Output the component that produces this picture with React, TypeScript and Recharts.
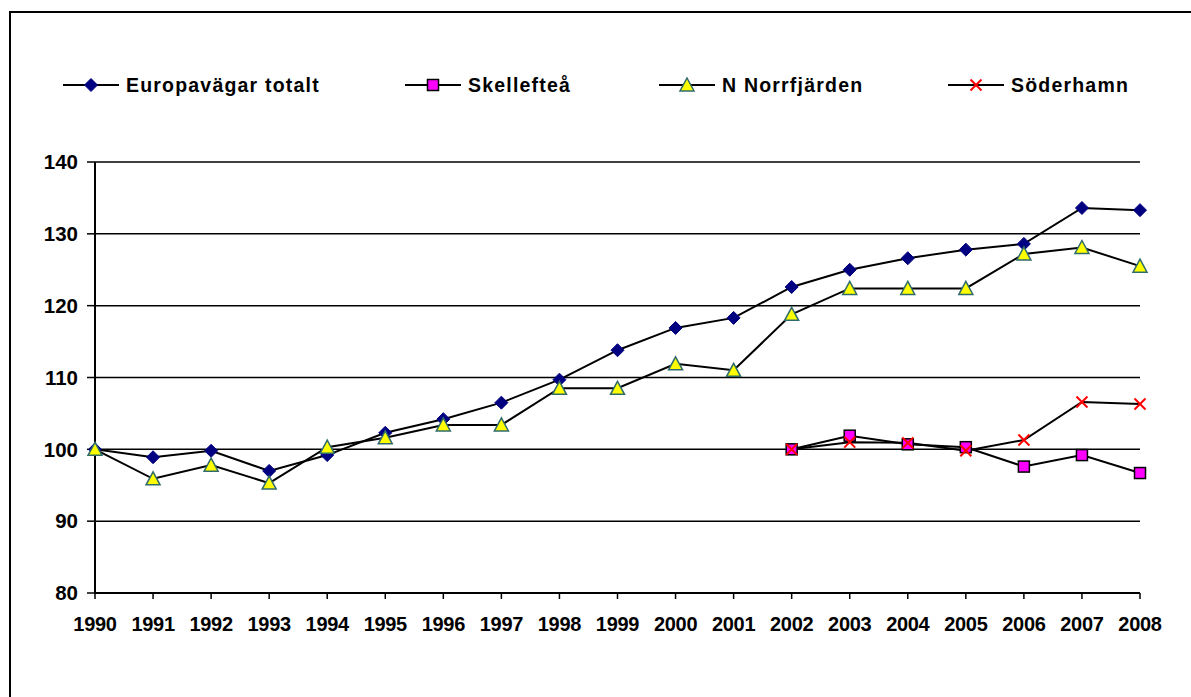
import React from "react";
import { LineChart, Line, XAxis, YAxis, CartesianGrid } from "recharts";

const years = [
  "1990", "1991", "1992", "1993", "1994", "1995", "1996", "1997", "1998", "1999",
  "2000", "2001", "2002", "2003", "2004", "2005", "2006", "2007", "2008",
];

const europavagar = [
  100, 98.9, 99.8, 97.0, 99.2, 102.3, 104.2, 106.5, 109.7, 113.8,
  116.9, 118.3, 122.6, 125.0, 126.6, 127.8, 128.6, 133.6, 133.3,
];

const skelleftea = [
  null, null, null, null, null, null, null, null, null, null,
  null, null, 100, 101.9, 100.7, 100.3, 97.6, 99.2, 96.7,
];

const norrfjarden = [
  100, 95.9, 97.8, 95.3, 100.3, 101.6, 103.4, 103.4, 108.5, 108.5,
  111.9, 111.0, 118.8, 122.4, 122.4, 122.4, 127.2, 128.1, 125.5,
];

const soderhamn = [
  null, null, null, null, null, null, null, null, null, null,
  null, null, 100, 101.0, 100.9, 99.8, 101.3, 106.6, 106.3,
];

const yTicks = [80, 90, 100, 110, 120, 130, 140];

const seriesNames = ["Europavägar totalt", "Skellefteå", "N Norrfjärden", "Söderhamn"];

const data = years.map((year, i) => ({
  year,
  europa: europavagar[i],
  skel: skelleftea[i],
  norr: norrfjarden[i],
  soder: soderhamn[i],
}));

const FONT = "'Liberation Sans', Arial, sans-serif";

// marker shapes, all centred on (cx, cy)
function Diamond({ cx, cy }: { cx: number; cy: number }) {
  const r = 6.5;
  return (
    <path
      d={`M${cx},${cy - r} L${cx + r},${cy} L${cx},${cy + r} L${cx - r},${cy} Z`}
      fill="#000080"
      stroke="#000080"
      strokeWidth={1}
    />
  );
}

function Square({ cx, cy }: { cx: number; cy: number }) {
  const r = 5.5;
  return (
    <rect x={cx - r} y={cy - r} width={r * 2} height={r * 2} fill="#ff00ff" stroke="#000" strokeWidth={1.5} />
  );
}

function Triangle({ cx, cy }: { cx: number; cy: number }) {
  const w = 7;
  return (
    <path
      d={`M${cx},${cy - 7} L${cx + w},${cy + 6} L${cx - w},${cy + 6} Z`}
      fill="#ffff00"
      stroke="#2f6b6b"
      strokeWidth={1.5}
    />
  );
}

function Cross({ cx, cy }: { cx: number; cy: number }) {
  const r = 5.5;
  return (
    <g stroke="#ff0000" strokeWidth={2}>
      <line x1={cx - r} y1={cy - r} x2={cx + r} y2={cy + r} />
      <line x1={cx - r} y1={cy + r} x2={cx + r} y2={cy - r} />
    </g>
  );
}

const markers = [Diamond, Square, Triangle, Cross];

// eslint-disable-next-line @typescript-eslint/no-explicit-any
const dotFor = (Shape: any) => (props: any) => {
  if (props.value == null || props.cy == null) return <g key={props.key ?? props.index} />;
  return <Shape key={props.key ?? props.index} cx={props.cx} cy={props.cy} />;
};

const legendLeft = [63, 405, 659, 948];

function LegendRow() {
  return (
    <>
      {seriesNames.map((name, i) => {
        const Shape = markers[i];
        return (
          <div
            key={name}
            style={{ position: "absolute", left: legendLeft[i], top: 73, height: 24, display: "flex", alignItems: "center" }}
          >
            <svg width={56} height={24} style={{ display: "block" }}>
              <line x1={0} y1={12} x2={56} y2={12} stroke="#000" strokeWidth={2} />
              <Shape cx={28} cy={12} />
            </svg>
            <span
              style={{
                marginLeft: 7,
                fontFamily: FONT,
                fontWeight: "bold",
                fontSize: 19.5,
                letterSpacing: 1.2,
                color: "#000",
                whiteSpace: "nowrap",
              }}
            >
              {name}
            </span>
          </div>
        );
      })}
    </>
  );
}

export default function App() {
  return (
    <div style={{ position: "fixed", left: 0, top: 0, width: 1191, height: 697, overflow: "hidden", background: "#fff" }}>
      {/* outer frame, only top and left edges visible */}
      <div
        style={{
          position: "absolute",
          left: 9,
          top: 11,
          width: 1200,
          height: 700,
          borderTop: "2px solid #000",
          borderLeft: "2px solid #000",
        }}
      />
      <LegendRow />
      <div style={{ position: "absolute", left: 0, top: 0 }}>
        <LineChart width={1191} height={697} data={data} margin={{ top: 162, right: 51, left: 0, bottom: 0 }}>
          <CartesianGrid horizontal vertical={false} stroke="#000" strokeWidth={1.5} />
          <XAxis
            dataKey="year"
            height={104}
            interval={0}
            tickSize={6}
            tickMargin={18}
            axisLine={{ stroke: "#000", strokeWidth: 2 }}
            tickLine={{ stroke: "#000", strokeWidth: 1.5 }}
            tick={{ fill: "#000", fontSize: 20, fontWeight: "bold", fontFamily: FONT, letterSpacing: -0.3 }}
          />
          <YAxis
            domain={[80, 140]}
            ticks={yTicks}
            width={95}
            tickSize={8}
            tickMargin={9}
            axisLine={{ stroke: "#000", strokeWidth: 2 }}
            tickLine={{ stroke: "#000", strokeWidth: 1.5 }}
            tick={{ fill: "#000", fontSize: 20.5, fontWeight: "bold", fontFamily: FONT }}
          />
          <Line dataKey="europa" stroke="#000" strokeWidth={2} dot={dotFor(Diamond)} isAnimationActive={false} />
          <Line dataKey="norr" stroke="#000" strokeWidth={2} dot={dotFor(Triangle)} isAnimationActive={false} />
          <Line dataKey="skel" stroke="#000" strokeWidth={2} dot={dotFor(Square)} isAnimationActive={false} />
          <Line dataKey="soder" stroke="#000" strokeWidth={2} dot={dotFor(Cross)} isAnimationActive={false} />
        </LineChart>
      </div>
    </div>
  );
}
